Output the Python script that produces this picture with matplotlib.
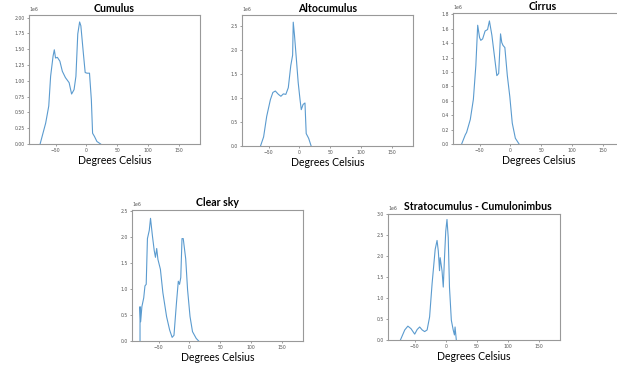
import matplotlib
matplotlib.use("Agg")
import matplotlib.pyplot as plt
from matplotlib.ticker import MultipleLocator
from matplotlib.transforms import offset_copy

# ---- data (temperature in deg C, counts in units of 1e6) ----
cumulus_t = [-75, -66, -61, -58, -54, -52, -50, -47, -43, -39, -34, -28, -24, -20, -17, -14, -11, -9, -5, -2, 1, 5, 8, 10, 13, 17, 23]
cumulus_c = [0, 0.33, 0.60, 1.07, 1.39, 1.49, 1.36, 1.37, 1.31, 1.15, 1.05, 0.97, 0.79, 0.86, 1.07, 1.74, 1.93, 1.87, 1.44, 1.13, 1.12, 1.12, 0.70, 0.17, 0.12, 0.04, 0]

alto_t = [-63, -58, -53, -47, -43, -39, -34, -30, -26, -22, -18, -14, -11, -10, -8, -5, -2, 1, 3, 6, 9, 11, 15, 19]
alto_c = [0, 0.19, 0.62, 0.97, 1.12, 1.15, 1.08, 1.04, 1.09, 1.08, 1.22, 1.68, 1.90, 2.59, 2.32, 1.83, 1.33, 0.97, 0.76, 0.87, 0.90, 0.26, 0.16, 0]

cirrus_t = [-79, -73, -71, -65, -60, -56, -53, -50, -48, -45, -41, -37, -34, -30, -26, -22, -19, -16, -14, -12, -9, -5, -1, 3, 8, 14]
cirrus_c = [0, 0.13, 0.16, 0.34, 0.62, 1.09, 1.65, 1.48, 1.44, 1.46, 1.57, 1.59, 1.71, 1.51, 1.23, 0.95, 0.98, 1.53, 1.41, 1.37, 1.34, 0.95, 0.66, 0.29, 0.08, 0]

clear_t = [-80, -80, -79, -77, -74, -72, -70, -68, -65, -63, -60, -57, -55, -53, -51, -47, -43, -37, -32, -28, -25, -21, -18, -16, -14, -12, -10, -6, -3, 1, 5, 11, 15]
clear_c = [0, 0.66, 0.37, 0.66, 0.83, 1.06, 1.09, 1.97, 2.13, 2.36, 2.03, 1.74, 1.61, 1.78, 1.57, 1.38, 0.93, 0.47, 0.21, 0.07, 0.11, 0.73, 1.15, 1.09, 1.22, 1.97, 1.97, 1.58, 0.99, 0.47, 0.18, 0.05, 0]

strato_t = [-73, -66, -61, -56, -50, -46, -42, -38, -34, -30, -26, -22, -17, -14, -12, -10, -9, -6, -4, -2, 0, 2, 4, 6, 9, 12, 14, 15, 17]
strato_c = [0, 0.24, 0.33, 0.27, 0.14, 0.25, 0.31, 0.24, 0.20, 0.24, 0.55, 1.34, 2.16, 2.37, 2.12, 1.65, 1.96, 1.65, 1.26, 1.96, 2.59, 2.87, 2.44, 1.26, 0.47, 0.24, 0.12, 0.31, 0]

titles = ["Cumulus", "Altocumulus", "Cirrus", "Clear sky", "Stratocumulus - Cumulonimbus"]
xlabel = "Degrees Celsius"

series = [(cumulus_t, cumulus_c), (alto_t, alto_c), (cirrus_t, cirrus_c),
          (clear_t, clear_c), (strato_t, strato_c)]

# ---- layout (pixels: left, right, top, bottom) ----
W, H = 617, 366
boxes = [(29, 200, 15, 144), (242, 413, 15, 146), (453, 624, 13, 144),
         (132, 303, 210, 341), (388, 560, 214, 340)]
title_dx = [0, 0, 4, 0, 4]
ytops = [2.04, 2.74, 1.82, 2.52, 3.0]
ysteps = [0.25, 0.5, 0.2, 0.5, 0.5]

fig = plt.figure(figsize=(W / 100, H / 100), dpi=100)
fig.patch.set_facecolor("white")

for (t, c), (l, r, tp, b), title, dx, ytop, ystep in zip(series, boxes, titles, title_dx, ytops, ysteps):
    ax = fig.add_axes([l / W, (H - b) / H, (r - l) / W, (b - tp) / H])
    ax.plot(t, [v * 1e6 for v in c], color="#5b9bcf", lw=0.8)
    ax.set_xlim(-93, 184)
    ax.set_ylim(0, ytop * 1e6)
    ax.xaxis.set_major_locator(MultipleLocator(50))
    ax.yaxis.set_major_locator(MultipleLocator(ystep * 1e6))
    ax.ticklabel_format(axis="y", style="sci", scilimits=(6, 6))
    ax.tick_params(labelsize=3.3, length=1.5, width=0.4, colors="#555555", pad=1.5)
    ax.yaxis.get_offset_text().set_fontsize(3.3)
    ax.yaxis.get_offset_text().set_color("#555555")
    for s in ax.spines.values():
        s.set_color("#999999")
        s.set_linewidth(0.8)
    tr = offset_copy(ax.transAxes, fig=fig, x=dx, y=3.5, units="dots")
    ax.text(0.5, 1.0, title, transform=tr, ha="center", va="baseline",
            fontsize=7.6, fontweight="bold", family="Lato")
    ax.set_xlabel(xlabel, fontsize=7.6, family="Lato", labelpad=1.5)

fig.savefig("out.png", dpi=100, facecolor="white")
